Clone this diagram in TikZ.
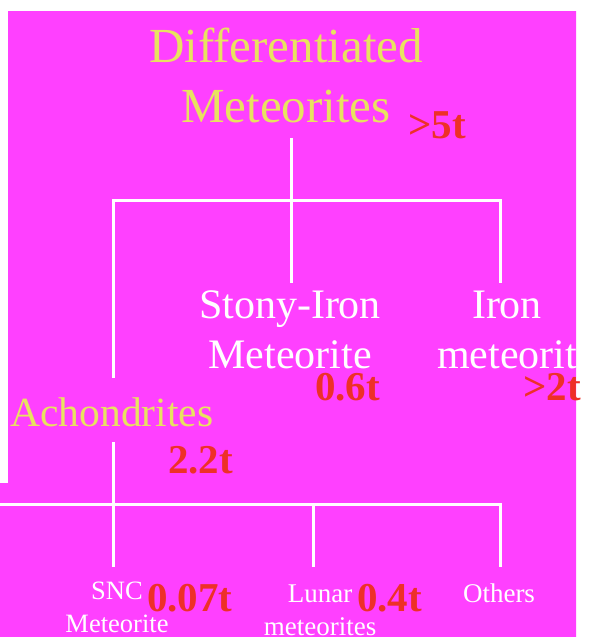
\documentclass[tikz,border=0pt]{standalone}
\usepackage{fontspec}
\setmainfont{Liberation Serif}
\definecolor{bgpink}{RGB}{255,64,255}
\definecolor{lblyellow}{RGB}{232,226,96}
\definecolor{wtred}{RGB}{238,48,40}
\begin{document}
\begin{tikzpicture}[x=1pt,y=-1pt,
	group/.style={text=lblyellow, align=center, inner sep=0pt, anchor=base},
	leaf/.style={text=white, align=center, inner sep=0pt, anchor=base},
	weight/.style={text=wtred, font=\bfseries\fontsize{41}{48}\selectfont, inner sep=0pt, anchor=base west},
	branch/.style={white, line width=3pt}]
		\useasboundingbox (0,0) rectangle (589,637);
		\fill[white] (0,0) rectangle (589,637);
		\fill[bgpink] (8,11) -- (576,11) -- (576,637) -- (0,637) -- (0,483) -- (8,483) -- cycle;
		
		% multi-line labels sit on the baseline of their last line
		\node[group, font=\fontsize{49}{60}\selectfont] (diff) at (286,122) {Differentiated\\Meteorites};
		\node[leaf, font=\fontsize{42}{50}\selectfont] (stony) at (290,368) {Stony-Iron\\Meteorite};
		\node[leaf, font=\fontsize{42}{50}\selectfont] (iron) at (507,368) {Iron\\meteorit};
		\node[group, font=\fontsize{41.5}{50}\selectfont] (achon) at (112,426) {Achondrites};
		\node[leaf, font=\fontsize{26.5}{33}\selectfont] (snc) at (117,632) {SNC\\Meteorite};
		\node[leaf, font=\fontsize{27}{33}\selectfont] (lunar) at (320,635) {Lunar\\meteorites};
		\node[leaf, font=\fontsize{27}{33}\selectfont] (others) at (499,602) {Others};
		
		\node[weight] (w0) at (408,138) {>5t};
		\node[weight] (w1) at (315,400) {0.6t};
		\node[weight] (w2) at (523,400) {>2t};
		\node[weight] (w3) at (168,473) {2.2t};
		\node[weight] (w4) at (147,611) {0.07t};
		\node[weight] (w5) at (357,611) {0.4t};
		
		\path	(291,138) coordinate(diffout)
			(291,200) coordinate(bar)
			(291,283) coordinate(stonyin)
			(500,283) coordinate(ironin)
			(113,378) coordinate(achonin)
			(113,442) coordinate(achonout)
			(0,504) coordinate(lowbar)
			(113,567) coordinate(sncin)
			(313,567) coordinate(lunarin)
			(500,567) coordinate(othersin);
		\draw[branch] (diffout) -- (stonyin);
		\draw[branch] (achonin) |- (bar) -| (ironin);
		\draw[branch] (achonout) -- (sncin);
		\draw[branch] (lowbar) -| (othersin);
		\draw[branch] (lunarin |- lowbar) -- (lunarin);
	\end{tikzpicture}
\end{document}
